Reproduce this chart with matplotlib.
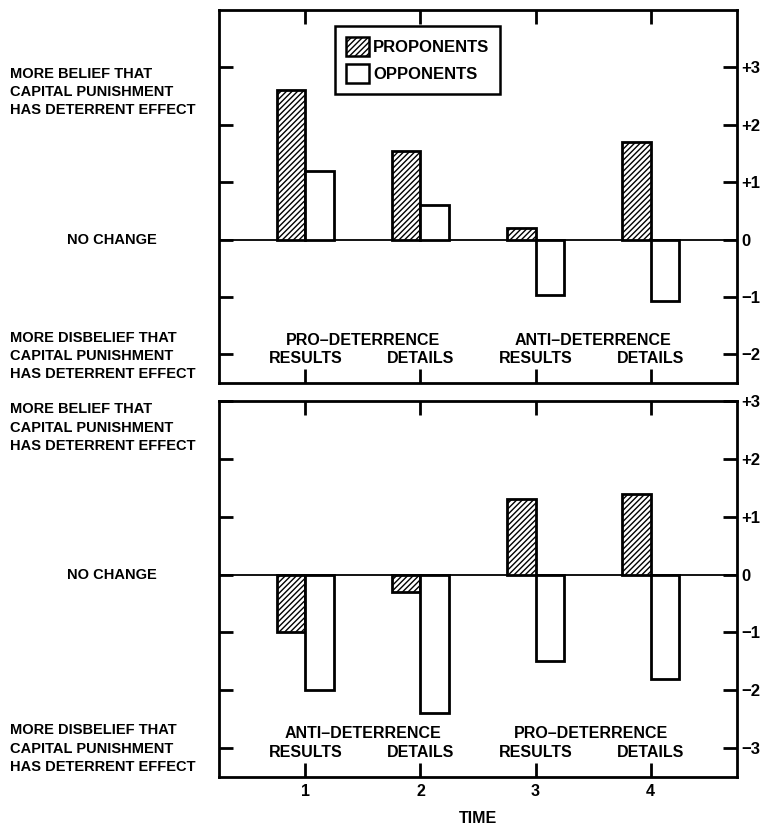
import numpy as np
import matplotlib
matplotlib.use("Agg")
import matplotlib.pyplot as plt
from matplotlib.patches import Patch
from matplotlib.transforms import blended_transform_factory

plt.rcParams['font.family'] = ['Liberation Sans', 'DejaVu Sans']
plt.rcParams['font.weight'] = 'bold'
plt.rcParams['hatch.linewidth'] = 1.0

times = [1, 2, 3, 4]
time_labels = ['1', '2', '3', '4']

top_proponents = [2.6, 1.55, 0.2, 1.7]
top_opponents = [1.2, 0.6, -0.97, -1.07]
bottom_proponents = [-1.0, -0.3, 1.3, 1.4]
bottom_opponents = [-2.0, -2.4, -1.5, -1.8]

top_yticks = [3, 2, 1, 0, -1, -2]
top_yticklabels = ['+3', '+2', '+1', '0', '\u22121', '\u22122']
bottom_yticks = [3, 2, 1, 0, -1, -2, -3]
bottom_yticklabels = ['+3', '+2', '+1', '0', '\u22121', '\u22122', '\u22123']

belief_text = "MORE BELIEF THAT\nCAPITAL PUNISHMENT\nHAS DETERRENT EFFECT"
disbelief_text = "MORE DISBELIEF THAT\nCAPITAL PUNISHMENT\nHAS DETERRENT EFFECT"

fig = plt.figure(figsize=(7.66, 8.27), dpi=100)
ax1 = fig.add_axes([219/766, 1-383/827, 518/766, 373/827])
ax2 = fig.add_axes([219/766, 1-777/827, 518/766, 376/827])

W = 0.25
t = np.array(times, dtype=float)


def style(ax, yticks, ylabels, ylim, show_x):
    ax.set_xlim(0.25, 4.75)
    ax.set_ylim(*ylim)
    ax.axhline(0, color='black', lw=1.3, zorder=1)
    for s in ax.spines.values():
        s.set_linewidth(2.0)
    ax.set_yticks(yticks)
    ax.set_yticklabels(ylabels)
    ax.set_xticks(times)
    ax.set_xticklabels(time_labels if show_x else [])
    ax.tick_params(axis='y', which='both', left=True, right=True,
                   labelleft=False, labelright=True, direction='in',
                   length=10, width=2.0, labelsize=12, pad=3)
    ax.tick_params(axis='x', which='both', top=True, bottom=True,
                   labelbottom=show_x, direction='in',
                   length=10, width=2.0, labelsize=11.5, pad=5)


for ax, prop, opp in [(ax1, top_proponents, top_opponents),
                      (ax2, bottom_proponents, bottom_opponents)]:
    ax.bar(t - W/2, prop, width=W, facecolor='white', edgecolor='black',
           hatch='//////', linewidth=2.0, zorder=2)
    ax.bar(t + W/2, opp, width=W, facecolor='white', edgecolor='black',
           linewidth=2.0, zorder=2)

style(ax1, top_yticks, top_yticklabels, (-2.5, 4.0), False)
style(ax2, bottom_yticks, bottom_yticklabels, (-3.5, 3.0), True)
ax2.set_xlabel('TIME', fontsize=11.5, fontweight='bold', labelpad=9)

# legend
handles = [Patch(facecolor='white', edgecolor='black', hatch='//////', linewidth=1.8, label='PROPONENTS'),
           Patch(facecolor='white', edgecolor='black', linewidth=1.8, label='OPPONENTS')]
leg = ax1.legend(handles=handles, loc='upper left', bbox_to_anchor=(0.224, 0.957),
                 fancybox=False, edgecolor='black', framealpha=1,
                 prop={'size': 12, 'weight': 'bold'}, handlelength=1.4,
                 handleheight=1.4, handletextpad=0.25, borderpad=0.65,
                 labelspacing=0.45, borderaxespad=0)
leg.get_frame().set_linewidth(1.8)

# left side annotations
for ax, yb, yd in [(ax1, 2.57, -2.03), (ax2, 2.54, -3.01)]:
    tr = blended_transform_factory(fig.transFigure, ax.transData)
    ax.text(10/766, yb, belief_text, transform=tr, ha='left', va='center',
            fontsize=10.5, fontweight='bold', linespacing=1.4, clip_on=False)
    ax.text(112/766, 0, "NO CHANGE", transform=tr, ha='center', va='center',
            fontsize=10.5, fontweight='bold', clip_on=False)
    ax.text(10/766, yd, disbelief_text, transform=tr, ha='left', va='center',
            fontsize=10.5, fontweight='bold', linespacing=1.4, clip_on=False)

# inner labels
fs = 11.5
ax1.text(1.5, -1.76, "PRO\u2013DETERRENCE", ha='center', va='center', fontsize=fs, fontweight='bold')
ax1.text(3.5, -1.76, "ANTI\u2013DETERRENCE", ha='center', va='center', fontsize=fs, fontweight='bold')
for x, lab in [(1, 'RESULTS'), (2, 'DETAILS'), (3, 'RESULTS'), (4, 'DETAILS')]:
    ax1.text(x, -2.08, lab, ha='center', va='center', fontsize=fs, fontweight='bold')

ax2.text(1.5, -2.75, "ANTI\u2013DETERRENCE", ha='center', va='center', fontsize=fs, fontweight='bold')
ax2.text(3.48, -2.75, "PRO\u2013DETERRENCE", ha='center', va='center', fontsize=fs, fontweight='bold')
for x, lab in [(1, 'RESULTS'), (2, 'DETAILS'), (3, 'RESULTS'), (4, 'DETAILS')]:
    ax2.text(x, -3.08, lab, ha='center', va='center', fontsize=fs, fontweight='bold')

fig.savefig('out.png', dpi=100)
